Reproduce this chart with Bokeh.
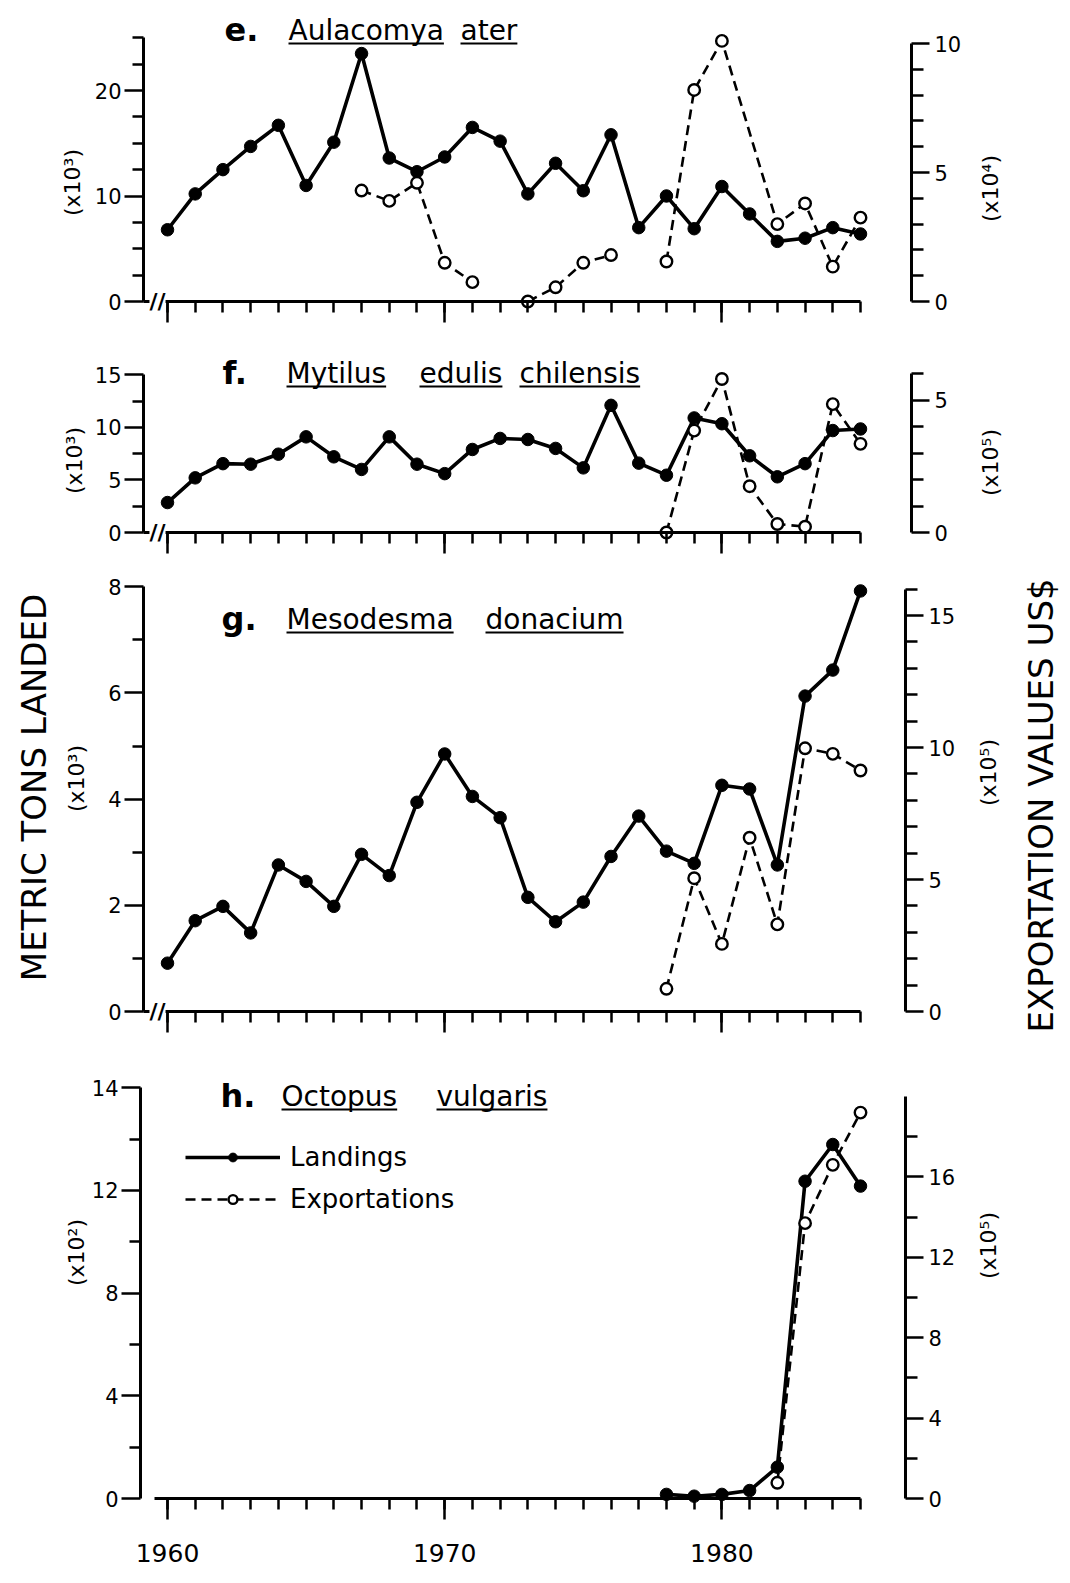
import math
import numpy as np
from bokeh.plotting import figure
from bokeh.models import (Range1d, LinearAxis, FixedTicker, SingleIntervalTicker,
                          Label, Legend, LegendItem)
from bokeh.layouts import column
from bokeh.embed import file_html
from bokeh.resources import INLINE

nan = float("nan")

# ---------------- data ----------------
YEARS = list(range(1960, 1986))

# e. Aulacomya ater  (landings x10^3 t, exportations x10^4 US$)
E_LAND = [6.8, 10.2, 12.5, 14.7, 16.7, 11.0, 15.1, 23.5, 13.6, 12.3, 13.7, 16.5, 15.2,
          10.2, 13.1, 10.5, 15.8, 7.0, 10.0, 6.9, 10.9, 8.3, 5.7, 6.0, 7.0, 6.4]
E_EXP_YEARS = [1967, 1968, 1969, 1970, 1971, 1972, 1973, 1974, 1975, 1976, 1977,
               1978, 1979, 1980, 1982, 1983, 1984, 1985]
E_EXP = [4.3, 3.9, 4.6, 1.5, 0.75, nan, 0.0, 0.55, 1.5, 1.8, nan,
         1.55, 8.2, 10.1, 3.0, 3.8, 1.35, 3.25]

# f. Mytilus edulis chilensis (landings x10^3 t, exportations x10^5 US$)
F_LAND = [2.85, 5.2, 6.55, 6.5, 7.45, 9.1, 7.2, 6.0, 9.1, 6.5, 5.6, 7.9, 8.95,
          8.85, 8.0, 6.15, 12.1, 6.6, 5.45, 10.9, 10.35, 7.3, 5.3, 6.55, 9.7, 9.85]
F_EXP_YEARS = [1978, 1979, 1980, 1981, 1982, 1983, 1984, 1985]
F_EXP = [0.0, 3.85, 5.8, 1.75, 0.32, 0.22, 4.85, 3.35]

# g. Mesodesma donacium (landings x10^3 t, exportations x10^5 US$)
G_LAND = [0.91, 1.71, 1.98, 1.48, 2.76, 2.45, 1.98, 2.96, 2.56, 3.94, 4.85, 4.05, 3.65,
          2.15, 1.69, 2.06, 2.92, 3.68, 3.02, 2.79, 4.26, 4.19, 2.76, 5.94, 6.43, 7.92]
G_EXP_YEARS = [1978, 1979, 1980, 1981, 1982, 1983, 1984, 1985]
G_EXP = [0.86, 5.05, 2.56, 6.58, 3.3, 9.97, 9.76, 9.13]

# h. Octopus vulgaris (landings x10^2 t, exportations x10^5 US$)
H_LAND_YEARS = [1978, 1979, 1980, 1981, 1982, 1983, 1984, 1985]
H_LAND = [0.16, 0.09, 0.16, 0.31, 1.22, 12.36, 13.79, 12.17]
H_EXP_YEARS = [1982, 1983, 1984, 1985]
H_EXP = [0.78, 13.7, 16.6, 19.2]

# tick values / labels
X_TICK_LABELS = {1960: "1960", 1970: "1970", 1980: "1980"}
E_LEFT_TICKS, E_LEFT_MINOR = [0, 10, 20], [2.5, 5, 7.5, 12.5, 15, 17.5, 22.5, 25]
E_RIGHT_TICKS, E_RIGHT_MINOR = [0, 5, 10], [1, 2, 3, 4, 6, 7, 8, 9]
F_LEFT_TICKS, F_LEFT_MINOR = [0, 5, 10, 15], [2.5, 7.5, 12.5]
F_RIGHT_TICKS, F_RIGHT_MINOR = [0, 5], [1, 2, 3, 4, 6]
G_LEFT_TICKS, G_LEFT_MINOR = [0, 2, 4, 6, 8], [1, 3, 5, 7]
G_RIGHT_TICKS = [0, 5, 10, 15]
G_RIGHT_MINOR = [1, 2, 3, 4, 6, 7, 8, 9, 11, 12, 13, 14, 16]
H_LEFT_TICKS, H_LEFT_MINOR = [0, 4, 8, 12, 16], [2, 6, 10, 14]
H_LEFT_LABELS = {0: "0", 4: "4", 8: "8", 12: "12", 16: "14"}
H_RIGHT_TICKS, H_RIGHT_MINOR = [0, 4, 8, 12, 16], [2, 6, 10, 14, 18]

# ---------------- layout / style ----------------
FONT = "DejaVu Sans"
PAGE_W = 1066
X1960_PX, PX_PER_YEAR = 167.0, 27.72

# approx DejaVu Sans advance widths (em) for underline lengths
CHAR_W = {"A": .684, "M": .863, "O": .787, "a": .613, "c": .550, "d": .635, "e": .615,
          "g": .635, "h": .634, "i": .278, "l": .278, "m": .974, "n": .634, "o": .612,
          "p": .635, "r": .411, "s": .521, "t": .392, "u": .634, "v": .592, "y": .592}


def text_w(s, size):
    return sum(CHAR_W.get(c, .6) for c in s) * size


def px_x(px):
    return 1960 + (px - X1960_PX) / PX_PER_YEAR


def style_axis(ax, tick_out, minor_out, label_size="21px"):
    ax.axis_line_width = 3
    ax.axis_line_color = "black"
    ax.major_tick_line_width = 2.5
    ax.minor_tick_line_width = 2.5
    ax.major_tick_line_color = "black"
    ax.minor_tick_line_color = "black"
    ax.major_tick_in = 0
    ax.minor_tick_in = 0
    ax.major_tick_out = tick_out
    ax.minor_tick_out = minor_out
    ax.major_label_text_font = FONT
    ax.major_label_text_font_size = label_size
    ax.major_label_text_color = "black"


def vlabel(p, x, y, text, size):
    p.add_layout(Label(x=x, y=y, text=text, angle=math.pi / 2,
                       text_font=FONT, text_font_size=size, text_color="black",
                       text_align="center", text_baseline="middle"))


def panel(cfg):
    zero, ls, rs = cfg["zero"], cfg["lscale"], cfg["rscale"]
    ft, fh = cfg["fig_top"], cfg["fig_h"]

    def px_y(py):
        return (zero - py) / ls

    # the plot frame covers the whole figure; axes are placed at fixed locations
    p = figure(width=PAGE_W, height=fh, output_backend="svg", toolbar_location=None,
               x_range=Range1d(px_x(0), px_x(PAGE_W)),
               y_range=Range1d((zero - ft - fh) / ls, (zero - ft) / ls),
               min_border_left=0, min_border_right=0, min_border_top=0, min_border_bottom=0)
    p.extra_y_ranges = {"right": Range1d((zero - ft - fh) / rs, (zero - ft) / rs)}
    p.outline_line_color = None
    p.grid.visible = False
    p.background_fill_color = "white"
    p.border_fill_color = "white"

    # bottom (x) axis at y = 0
    xa = p.xaxis[0]
    xa.fixed_location = 0
    xa.bounds = (px_x(cfg["xstart_px"]), 1985)
    xa.ticker = SingleIntervalTicker(interval=10, num_minor_ticks=10)
    style_axis(xa, 21, 11, "25px")
    xa.major_label_standoff = 24
    if cfg["xlabels"]:
        xa.major_label_overrides = X_TICK_LABELS
    else:
        xa.major_label_overrides = {k: "" for k in X_TICK_LABELS}

    # left axis
    ya = p.yaxis[0]
    ya.fixed_location = px_x(cfg["L"])
    ya.bounds = (0, cfg["lbound"])
    ya.ticker = FixedTicker(ticks=cfg["lticks"], minor_ticks=cfg["lminor"])
    if "llabels" in cfg:
        ya.major_label_overrides = cfg["llabels"]
    style_axis(ya, 19, 11)
    ya.major_label_standoff = 3
    vlabel(p, px_x(cfg["llabel_px"][0]), px_y(cfg["llabel_px"][1]), cfg["llabel"], "22px")

    # right axis
    ra = LinearAxis(y_range_name="right", bounds=(0, cfg["rbound"]),
                    fixed_location=px_x(cfg["R"]),
                    ticker=FixedTicker(ticks=cfg["rticks"], minor_ticks=cfg["rminor"]))
    style_axis(ra, 18, 12)
    ra.major_label_standoff = 5
    p.add_layout(ra, "right")
    vlabel(p, px_x(cfg["rlabel_px"][0]), px_y(cfg["rlabel_px"][1]), cfg["rlabel"], "22px")

    # series
    lyears = np.array(cfg["land_years"], dtype=float)
    lvals = np.array(cfg["land"], dtype=float)
    eyears = np.array(cfg["exp_years"], dtype=float)
    evals = np.array(cfg["exp"], dtype=float)
    l_line = p.line(lyears, lvals, line_width=3.6, line_color="black")
    e_line = p.line(eyears, evals, y_range_name="right", line_width=2.6,
                    line_color="black", line_dash="10 6")
    l_pts = p.scatter(lyears, lvals, size=12.5, fill_color="black", line_color="black")
    e_pts = p.scatter(eyears, evals, y_range_name="right", size=11.5, fill_color="white",
                      line_color="black", line_width=2.4)

    # axis break mark
    if cfg["brk"]:
        p.add_layout(Label(x=px_x(cfg["xstart_px"] + 14), y=0, text="//",
                           text_font=FONT, text_font_size="22px", text_font_style="bold",
                           text_color="black", text_align="center", text_baseline="middle",
                           background_fill_color="white"))

    # panel title (letter + underlined species name)
    base = cfg["title_base"]
    p.add_layout(Label(x=px_x(cfg["letter_px"]), y=px_y(base - 9), text=cfg["letter"],
                       text_font=FONT, text_font_size="32px", text_font_style="bold",
                       text_color="black", text_align="left", text_baseline="middle"))
    ux0, ux1, uy = [], [], []
    for word, wpx in cfg["words"]:
        p.add_layout(Label(x=px_x(wpx), y=px_y(base - 8), text=word, text_font=FONT,
                           text_font_size="28px", text_color="black",
                           text_align="left", text_baseline="middle"))
        ux0.append(px_x(wpx))
        ux1.append(px_x(wpx + text_w(word, 28)))
        uy.append(px_y(base + 5))
    p.segment(x0=ux0, y0=uy, x1=ux1, y1=uy, line_width=2.2, line_color="black")

    return p, (l_line, l_pts, e_line, e_pts), px_y


CFG_E = dict(fig_top=0, fig_h=335, L=143, R=911, zero=301,
             lscale=10.55, rscale=25.8, xstart_px=143, xlabels=False, brk=True,
             lbound=25, lticks=E_LEFT_TICKS, lminor=E_LEFT_MINOR,
             llabel="(x10³)", llabel_px=(72, 182),
             rbound=10, rticks=E_RIGHT_TICKS, rminor=E_RIGHT_MINOR,
             rlabel="(x10⁴)", rlabel_px=(990, 188),
             land_years=YEARS, land=E_LAND, exp_years=E_EXP_YEARS, exp=E_EXP,
             letter="e.", letter_px=224, title_base=38,
             words=[("Aulacomya", 288), ("ater", 460)])
CFG_F = dict(fig_top=335, fig_h=222, L=143, R=911, zero=532,
             lscale=10.51, rscale=26.47, xstart_px=143, xlabels=False, brk=True,
             lbound=15, lticks=F_LEFT_TICKS, lminor=F_LEFT_MINOR,
             llabel="(x10³)", llabel_px=(74, 460),
             rbound=6, rticks=F_RIGHT_TICKS, rminor=F_RIGHT_MINOR,
             rlabel="(x10⁵)", rlabel_px=(990, 462),
             land_years=YEARS, land=F_LAND, exp_years=F_EXP_YEARS, exp=F_EXP,
             letter="f.", letter_px=222, title_base=381,
             words=[("Mytilus", 286), ("edulis", 419), ("chilensis", 519)])
CFG_G = dict(fig_top=557, fig_h=491, L=143, R=905, zero=1011,
             lscale=53.1, rscale=26.4, xstart_px=143, xlabels=False, brk=True,
             lbound=8, lticks=G_LEFT_TICKS, lminor=G_LEFT_MINOR,
             llabel="(x10³)", llabel_px=(76, 778),
             rbound=16, rticks=G_RIGHT_TICKS, rminor=G_RIGHT_MINOR,
             rlabel="(x10⁵)", rlabel_px=(988, 772),
             land_years=YEARS, land=G_LAND, exp_years=G_EXP_YEARS, exp=G_EXP,
             letter="g.", letter_px=221, title_base=627,
             words=[("Mesodesma", 286), ("donacium", 485)])
CFG_H = dict(fig_top=1048, fig_h=532, L=140, R=905, zero=1498,
             lscale=25.67, rscale=20.1, xstart_px=154, xlabels=True, brk=False,
             lbound=16, lticks=H_LEFT_TICKS, lminor=H_LEFT_MINOR, llabels=H_LEFT_LABELS,
             llabel="(x10²)", llabel_px=(76, 1252),
             rbound=20, rticks=H_RIGHT_TICKS, rminor=H_RIGHT_MINOR,
             rlabel="(x10⁵)", rlabel_px=(988, 1245),
             land_years=H_LAND_YEARS, land=H_LAND, exp_years=H_EXP_YEARS, exp=H_EXP,
             letter="h.", letter_px=220, title_base=1104,
             words=[("Octopus", 281), ("vulgaris", 436)])

pe, _, _ = panel(CFG_E)
pf, _, _ = panel(CFG_F)
pg, _, gy = panel(CFG_G)
ph, (hl, hlp, he, hep), _ = panel(CFG_H)

# outer titles (drawn with panel g)
vlabel(pg, px_x(33), gy(787), "METRIC TONS LANDED", "34px")
vlabel(pg, px_x(1040), gy(805), "EXPORTATION VALUES US$", "34px")

legend = Legend(items=[LegendItem(label="Landings", renderers=[hl, hlp]),
                       LegendItem(label="Exportations", renderers=[he, hep])],
                location=(185, 366), orientation="vertical",
                glyph_width=95, glyph_height=22, label_height=22, spacing=12,
                padding=0, margin=0, label_standoff=10,
                border_line_color=None, background_fill_alpha=0,
                label_text_font=FONT, label_text_font_size="26px",
                label_text_color="black")
ph.add_layout(legend)

layout = column(pe, pf, pg, ph, spacing=0)
open("out.html", "w").write(file_html(layout, INLINE))
